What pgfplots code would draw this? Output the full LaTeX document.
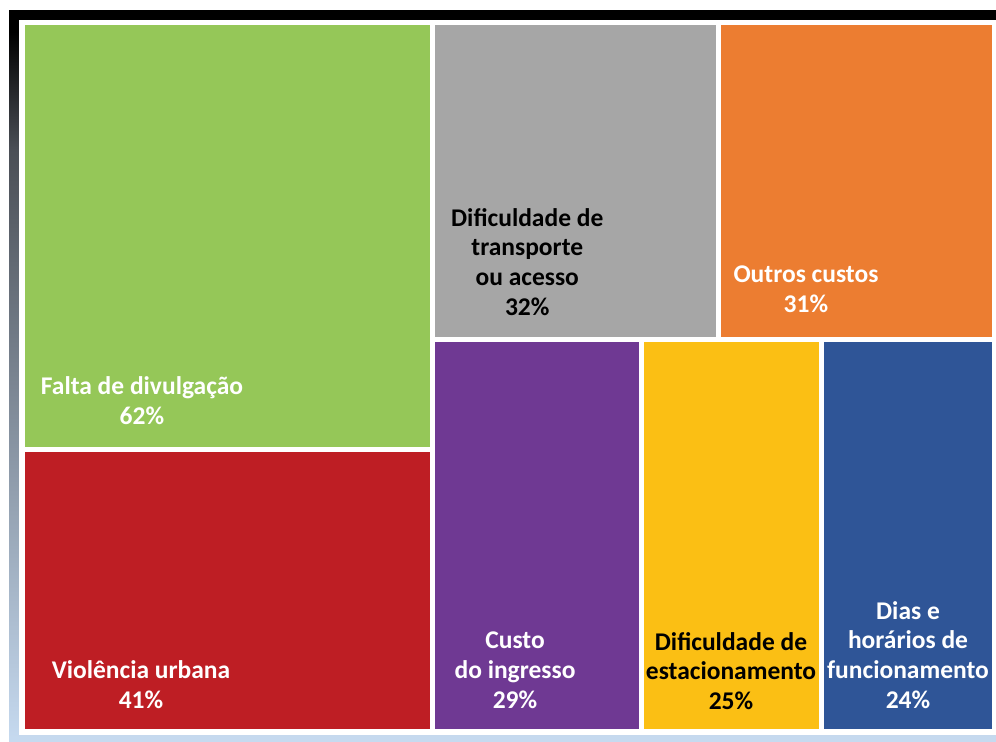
\documentclass[border=0pt]{standalone}
\usepackage{pgfplots}
\pgfplotsset{compat=1.18}
\usepackage{fontspec}
\setmainfont{Carlito}
\definecolor{cGreen}{RGB}{149,199,88}
\definecolor{cRed}{RGB}{190,30,36}
\definecolor{cGray}{RGB}{166,166,166}
\definecolor{cOrange}{RGB}{236,125,49}
\definecolor{cPurple}{RGB}{111,57,147}
\definecolor{cYellow}{RGB}{251,191,20}
\definecolor{cBlue}{RGB}{47,85,151}
\definecolor{fLight}{RGB}{198,218,240}
\definecolor{fMid}{RGB}{74,78,85}
\pgfdeclareverticalshading{frameshade}{100bp}{color(0bp)=(fLight); color(25bp)=(fLight); color(65.5bp)=(fMid); color(73.5bp)=(black); color(100bp)=(black)}
\tikzset{lbl/.style={font=\fontsize{12.8}{15}\selectfont\bfseries, align=center, anchor=center, inner sep=0pt}}
\begin{document}
\begin{tikzpicture}[x=0.5bp,y=-0.5bp]
\useasboundingbox (0,0) rectangle (996,742);
\fill[shading=frameshade] (9,10) rectangle (996,742);
\fill[white] (19,20) rectangle (996,735);
\begin{axis}[
  at={(11.25bp,-11.25bp)}, anchor=north west,
  scale only axis, width=486bp, height=354.5bp,
  xmin=0, xmax=1, ymin=0, ymax=1, y dir=reverse,
  hide axis, clip=false,
  every axis plot/.append style={draw=white, line width=2.5bp, line join=miter}
]
% Treemap of 62, 41, 32, 31, 29, 25, 24 (total 244)
% Falta de divulgacao 62%
\addplot[fill=cGreen] coordinates {(0,0) (0.42213,0) (0.42213,0.60194) (0,0.60194)} -- cycle;
% Violencia urbana 41%
\addplot[fill=cRed] coordinates {(0,0.60194) (0.42213,0.60194) (0.42213,1) (0,1)} -- cycle;
% Dificuldade de transporte 32%
\addplot[fill=cGray] coordinates {(0.42213,0) (0.71565,0) (0.71565,0.44681) (0.42213,0.44681)} -- cycle;
% Outros custos 31%
\addplot[fill=cOrange] coordinates {(0.71565,0) (1,0) (1,0.44681) (0.71565,0.44681)} -- cycle;
% Custo do ingresso 29%
\addplot[fill=cPurple] coordinates {(0.42213,0.44681) (0.63698,0.44681) (0.63698,1) (0.42213,1)} -- cycle;
% Dificuldade de estacionamento 25%
\addplot[fill=cYellow] coordinates {(0.63698,0.44681) (0.82219,0.44681) (0.82219,1) (0.63698,1)} -- cycle;
% Dias e horarios 24%
\addplot[fill=cBlue] coordinates {(0.82219,0.44681) (1,0.44681) (1,1) (0.82219,1)} -- cycle;

\node[lbl, text=white] at (axis cs:0.1229,0.5339) {Falta de divulgação\\62\%};
\node[lbl, text=white] at (axis cs:0.1219,0.9344) {Violência urbana\\41\%};
\node[lbl, text=black] at (axis cs:0.5193,0.3378) {Dificuldade de\\transporte\\ou acesso\\32\%};
\node[lbl, text=white] at (axis cs:0.8060,0.3759) {Outros custos\\31\%};
\node[lbl, text=white] at (axis cs:0.5067,0.9133) {Custo\\do ingresso\\29\%};
\node[lbl, text=black] at (axis cs:0.7289,0.9147) {Dificuldade de\\estacionamento\\25\%};
\node[lbl, text=white] at (axis cs:0.9110,0.8921) {Dias e\\horários de\\funcionamento\\24\%};
\end{axis}
\end{tikzpicture}
\end{document}
